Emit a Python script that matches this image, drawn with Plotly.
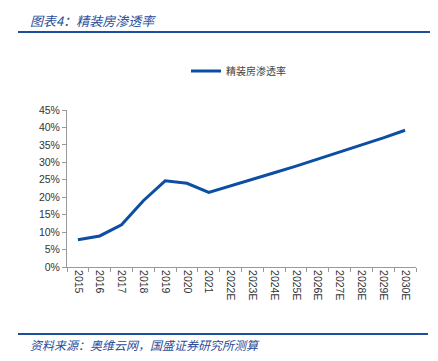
import plotly.graph_objects as go

years = ["2015", "2016", "2017", "2018", "2019", "2020", "2021", "2022E", "2023E",
         "2024E", "2025E", "2026E", "2027E", "2028E", "2029E", "2030E"]
penetration = [0.078, 0.089, 0.121, 0.190, 0.247, 0.240, 0.214, 0.232, 0.251,
               0.270, 0.289, 0.309, 0.329, 0.349, 0.370, 0.392]
y_ticks = [0, 0.05, 0.10, 0.15, 0.20, 0.25, 0.30, 0.35, 0.40, 0.45]
y_labels = ["0%", "5%", "10%", "15%", "20%", "25%", "30%", "35%", "40%", "45%"]

series_name = "精装房渗透率"
title_text = "图表4：精装房渗透率"
source_text = "资料来源：奥维云网，国盛证券研究所测算"

OFF = 8  # default page body margin
W, H = 430, 353
L, R, T, B = 59, 22, 102, 94
pw, ph = W - L - R, H - T - B

def px_x(x):
    return (x - OFF - L) / pw

def px_y(y):
    return (H - B - (y - OFF)) / ph

fig = go.Figure()
fig.add_trace(go.Scatter(
    x=years, y=penetration, mode="lines", name=series_name,
    line=dict(color="#0b4ea2", width=3),
))

cjk = "Noto Sans CJK SC"
tickfont = dict(family="Liberation Sans", size=10.5, color="#333333")
fig.update_layout(
    template="none",
    width=W, height=H,
    margin=dict(l=L, r=R, t=T, b=B, autoexpand=False),
    paper_bgcolor="white", plot_bgcolor="white",
    font=dict(family="Liberation Sans", size=11, color="#333333"),
    showlegend=True,
    legend=dict(orientation="h", x=px_x(186), y=px_y(71), xanchor="left", yanchor="middle",
                font=dict(family=cjk, size=10, color="#444444"),
                bgcolor="rgba(0,0,0,0)"),
    xaxis=dict(type="category", range=[-0.5, len(years) - 0.5], automargin=False,
               showgrid=False, showline=True, linecolor="#999999",
               linewidth=1, ticks="outside", tickson="boundaries", ticklen=4,
               tickcolor="#999999", tickangle=90, tickfont=tickfont),
    yaxis=dict(range=[0, 0.45], tickvals=y_ticks, ticktext=y_labels, showgrid=False,
               automargin=False,
               showline=True, linecolor="#999999", linewidth=1, ticks="outside",
               ticklen=4, tickcolor="#999999", zeroline=False, tickfont=tickfont),
    shapes=[
        dict(type="line", xref="paper", yref="paper", x0=px_x(18), x1=px_x(438),
             y0=px_y(32), y1=px_y(32), line=dict(color="#1f4e9e", width=2)),
        dict(type="line", xref="paper", yref="paper", x0=px_x(18), x1=px_x(428),
             y0=px_y(334), y1=px_y(334), line=dict(color="#1f4e9e", width=2)),
    ],
    annotations=[
        dict(text=title_text, xref="paper", yref="paper", x=px_x(28), y=px_y(8.5),
             xanchor="left", yanchor="top", showarrow=False,
             font=dict(family=cjk, size=13, color="#2a4d9a", style="italic")),
        dict(text=source_text, xref="paper", yref="paper", x=px_x(28), y=px_y(344),
             xanchor="left", yanchor="middle", showarrow=False,
             font=dict(family=cjk, size=12, color="#2a4d9a", style="italic")),
    ],
)

fig.write_html("out.html")
